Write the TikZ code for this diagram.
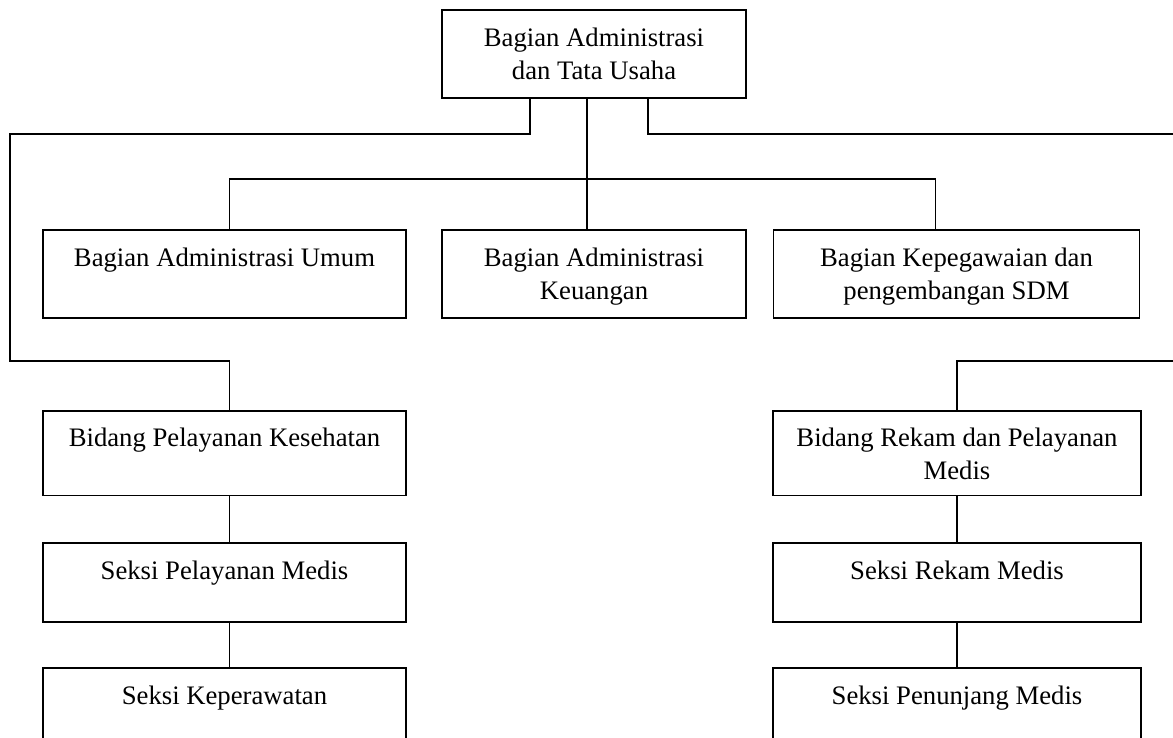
\documentclass[tikz,border=0pt]{standalone}
\usepackage{fontspec}
\setmainfont{Liberation Serif}
\usepackage{tikz}
\usetikzlibrary{positioning,calc}
\definecolor{OrgInk}{HTML}{000000}

\begin{document}
\begin{tikzpicture}[x=0.5pt,y=-0.5pt,
    kotak/.style={draw=OrgInk,line width=0.9pt,inner sep=0pt},
    teks/.style={font=\fontsize{13.35}{16.5}\selectfont,align=center,anchor=north,inner sep=0pt,yshift=-9pt},
    garis/.style={draw=OrgInk,line width=0.9pt}]
    \clip (0,0) rectangle (1173,738);
    % kotak
    \node[kotak,minimum width=152pt,minimum height=44pt] (bat) at (594,54) {};
    \node[teks] (tbat) at (bat.north) {Bagian Administrasi\\dan Tata Usaha};
    \node[kotak,minimum width=181.5pt,minimum height=44pt] (bau) at (224.5,274) {};
    \node[teks] (tbau) at (bau.north) {Bagian Administrasi Umum};
    \node[kotak,minimum width=152pt,minimum height=44pt] (bak) at (594,274) {};
    \node[teks] (tbak) at (bak.north) {Bagian Administrasi\\Keuangan};
    \node[kotak,minimum width=183pt,minimum height=44pt] (bkp) at (956.5,274) {};
    \node[teks] (tbkp) at (bkp.north) {Bagian Kepegawaian dan\\pengembangan SDM};
    \node[kotak,minimum width=181.5pt,minimum height=42.4pt] (bpk) at (224.5,453.1) {};
    \node[teks] (tbpk) at (bpk.north) {Bidang Pelayanan Kesehatan};
    \node[kotak,minimum width=183.8pt,minimum height=42.4pt] (brm) at (957,453.1) {};
    \node[teks] (tbrm) at (brm.north) {Bidang Rekam dan Pelayanan\\Medis};
    \node[kotak,minimum width=181.5pt,minimum height=39.3pt] (spm) at (224.5,582.4) {};
    \node[teks] (tspm) at (spm.north) {Seksi Pelayanan Medis};
    \node[kotak,minimum width=183.8pt,minimum height=39.3pt] (srm) at (957,582.4) {};
    \node[teks] (tsrm) at (srm.north) {Seksi Rekam Medis};
    \node[kotak,minimum width=181.5pt,minimum height=50pt] (skp) at (224.5,718) {};
    \node[teks] (tskp) at (skp.north) {Seksi Keperawatan};
    \node[kotak,minimum width=183.8pt,minimum height=50pt] (spn) at (957,718) {};
    \node[teks] (tspn) at (spn.north) {Seksi Penunjang Medis};
    % titik belok
    \coordinate (jl) at (530,134);
    \coordinate (jr) at (648,134);
    \coordinate (jc) at (587,179);
    \coordinate (ha) at (229.5,179);
    \coordinate (hb) at (935.5,179);
    \coordinate (el) at (10,361);
    \coordinate (ml) at (229.5,361);
    \coordinate (er) at (1173,361);
    \coordinate (mr) at (957,361);
    % garis
    \draw[garis] (bat.south -| jl) -- (jl) -| (el) -- (ml) -- (ml |- bpk.north);
    \draw[garis] (bat.south -| jr) -- (jr) -- (jr -| er);
    \draw[garis] (er) -- (mr) -- (mr |- brm.north);
    \draw[garis] (bat.south -| jc) -- (bak.north -| jc);
    \draw[garis] (bau.north -| ha) -- (ha) -- (hb) -- (bkp.north -| hb);
    \draw[garis] (bpk.south -| ml) -- (spm.north -| ml);
    \draw[garis] (spm.south -| ml) -- (skp.north -| ml);
    \draw[garis] (brm.south -| mr) -- (srm.north -| mr);
    \draw[garis] (srm.south -| mr) -- (spn.north -| mr);
  \end{tikzpicture}
\end{document}
